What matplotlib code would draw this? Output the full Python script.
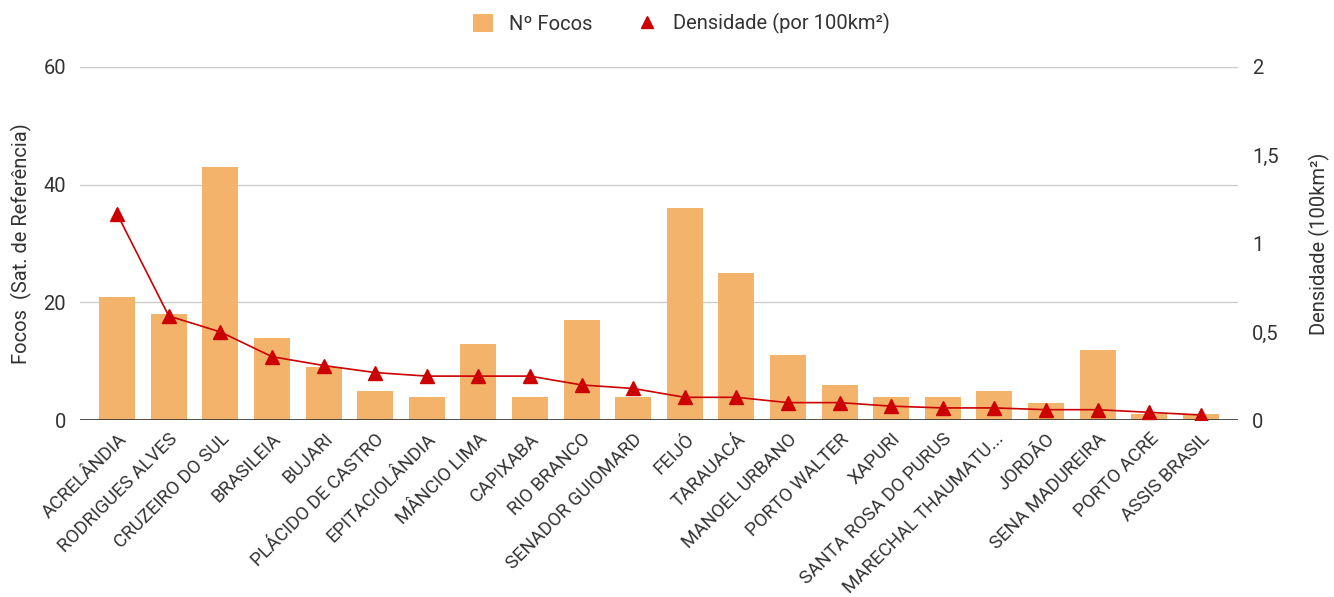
import numpy as np
import matplotlib.pyplot as plt
from matplotlib.lines import Line2D
from matplotlib.patches import Patch

plt.rcParams['font.family'] = ['Roboto', 'DejaVu Sans']

# =============================
# DATA
# =============================
municipios = ["ACRELÂNDIA", "RODRIGUES ALVES", "CRUZEIRO DO SUL", "BRASILEIA", "BUJARI",
              "PLÁCIDO DE CASTRO", "EPITACIOLÂNDIA", "MÂNCIO LIMA", "CAPIXABA", "RIO BRANCO",
              "SENADOR GUIOMARD", "FEIJÓ", "TARAUACÁ", "MANOEL URBANO", "PORTO WALTER",
              "XAPURI", "SANTA ROSA DO PURUS", "MARECHAL THAUMATU...", "JORDÃO",
              "SENA MADUREIRA", "PORTO ACRE", "ASSIS BRASIL"]
focos = [21, 18, 43, 14, 9, 5, 4, 13, 4, 17, 4, 36, 25, 11, 6, 4, 4, 5, 3, 12, 1, 1]
densidade = [1.167, 0.59, 0.50, 0.36, 0.31, 0.27, 0.25, 0.25, 0.25, 0.20, 0.18,
             0.13, 0.13, 0.10, 0.10, 0.08, 0.07, 0.07, 0.06, 0.06, 0.045, 0.03]

bar_color = "#F4B36B"
line_color = "#CC0000"
text_color = "#333333"

# =============================
# PLOT
# =============================
fig, ax = plt.subplots(figsize=(13.34, 5.97), dpi=100)
fig.subplots_adjust(left=0.06, right=0.928, top=0.888, bottom=0.296)

x = np.arange(len(municipios))
ax.bar(x, focos, width=0.7, color=bar_color, zorder=2)
ax.set_ylim(0, 60)
ax.set_yticks([0, 20, 40, 60])
ax.set_xlim(-0.72, len(municipios) - 0.28)
ax.grid(axis="y", color="#CCCCCC", linewidth=1, zorder=0)
ax.axhline(0, color="#333333", linewidth=1.2, zorder=3)
for s in ax.spines.values():
    s.set_visible(False)
ax.tick_params(axis="both", length=0, colors=text_color, labelsize=14.5)
ax.set_xticks(x)
ax.set_xticklabels(municipios, rotation=45, ha="right", va="top",
                   rotation_mode="anchor", fontsize=13.5)
ax.tick_params(axis="x", pad=7)
ax.tick_params(axis="y", pad=10)
ax.set_ylabel("Focos  (Sat. de Referência)", fontsize=14.5, color=text_color, labelpad=8)

ax2 = ax.twinx()
ax2.plot(x, densidade, color=line_color, linewidth=1.2, marker="^",
         markersize=10, zorder=4)
ax2.set_ylim(0, 2)
ax2.set_yticks([0, 0.5, 1, 1.5, 2])
ax2.set_yticklabels(["0", "0,5", "1", "1,5", "2"])
for s in ax2.spines.values():
    s.set_visible(False)
ax2.tick_params(axis="y", length=0, colors=text_color, labelsize=14.5, pad=10)
ax2.set_ylabel("Densidade (100km²)", fontsize=14.5, color=text_color, labelpad=22)

handles = [Patch(facecolor=bar_color, edgecolor="none", label="Nº Focos"),
           Line2D([], [], color=line_color, marker="^", linestyle="none",
                  markersize=9, label="Densidade (por 100km²)")]
fig.legend(handles=handles, loc="upper center", bbox_to_anchor=(0.511, 1.008), ncol=2,
           frameon=False, fontsize=14.5, handlelength=1.0, handleheight=1.0,
           columnspacing=2.2, handletextpad=0.8, labelcolor=text_color)

plt.savefig("out.png", dpi=100)
